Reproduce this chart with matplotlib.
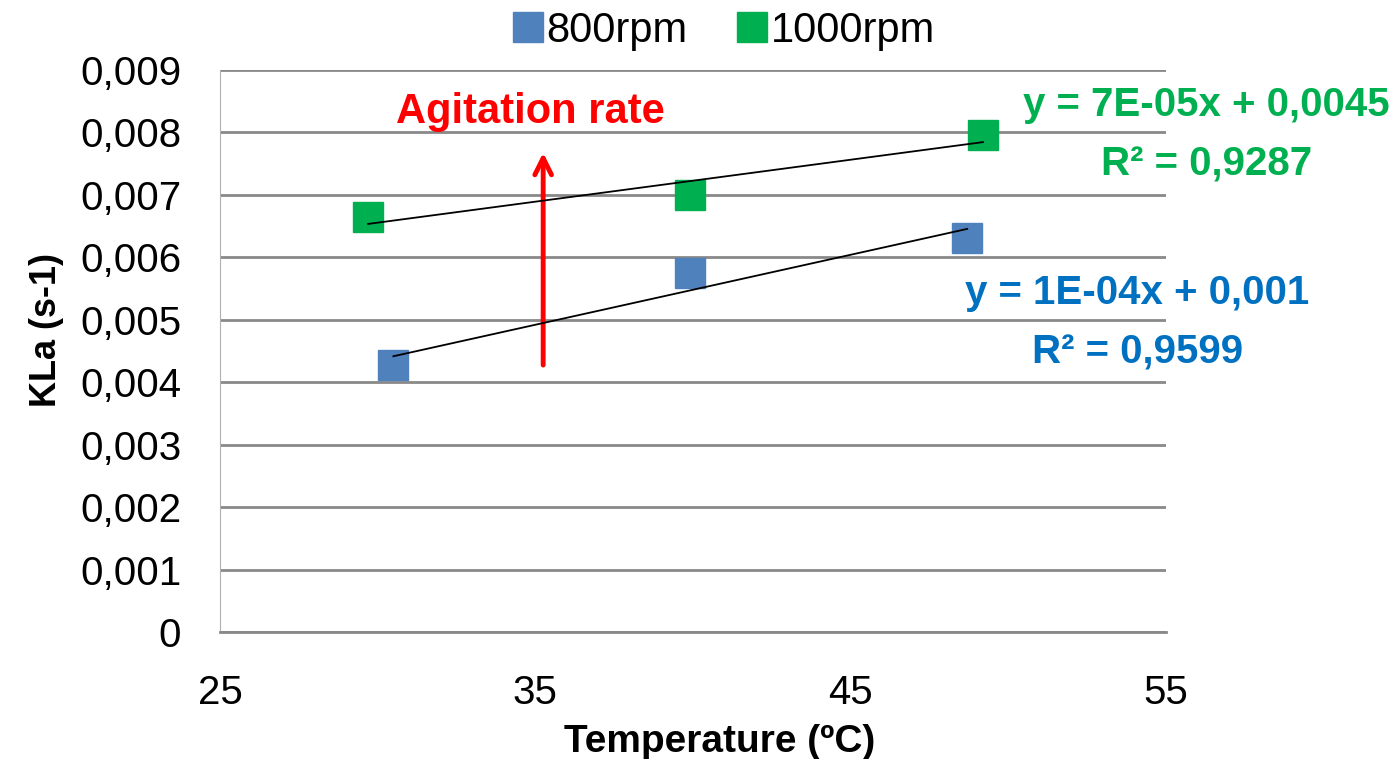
import numpy as np
from matplotlib import pyplot as plt

# values
temp_800 = [30.5, 39.9, 48.7]
kla_800 = [0.00428, 0.00575, 0.00631]
temp_1000 = [29.7, 39.9, 49.2]
kla_1000 = [0.00664, 0.00700, 0.00796]

eq_800 = ['y = 1E-04x + 0,001', 'R² = 0,9599']
eq_1000 = ['y = 7E-05x + 0,0045', 'R² = 0,9287']

x_ticks = [25, 35, 45, 55]
y_ticks = [0, 0.001, 0.002, 0.003, 0.004, 0.005, 0.006, 0.007, 0.008, 0.009]

plt.rcParams['font.family'] = ['Liberation Sans', 'DejaVu Sans']

blue = '#4F81BD'
green = '#00B050'
grid = '#898989'

fig = plt.figure(figsize=(13.97, 7.59), dpi=100)
ax = fig.add_axes([0.1575, 0.1673, 0.677, 0.7405])

ax.plot(temp_800, kla_800, 's', color=blue, ms=22, label='800rpm', zorder=3)
ax.plot(temp_1000, kla_1000, 's', color=green, ms=22, label='1000rpm', zorder=3)

# linear trendlines
for xs, ys in [(temp_800, kla_800), (temp_1000, kla_1000)]:
    m, b = np.polyfit(xs, ys, 1)
    xx = np.array([min(xs), max(xs)])
    ax.plot(xx, m * xx + b, color='black', lw=1.3, zorder=4)

ax.set_xlim(25, 55)
ax.set_ylim(0, 0.009)
ax.set_xticks(x_ticks)
ax.set_yticks(y_ticks)
ax.set_yticklabels(['0'] + ['{:.3f}'.format(v).replace('.', ',') for v in y_ticks[1:]])
ax.tick_params(length=0, labelsize=29, pad=28)
ax.tick_params(axis='x', pad=30)
ax.yaxis.grid(True, color=grid, lw=2)
ax.set_axisbelow(True)
for s in ['top', 'right']:
    ax.spines[s].set_visible(False)
ax.spines['left'].set_color('#b0b0b0')
ax.spines['bottom'].set_color(grid)
ax.spines['bottom'].set_linewidth(2)

ax.set_xlabel('Temperature (ºC)', fontsize=28, fontweight='bold')
ax.set_ylabel('KLa (s-1)', fontsize=26, fontweight='bold')
ax.xaxis.set_label_coords(0.528, -0.163)
ax.yaxis.set_label_coords(-0.165, 0.537)

# agitation arrow
ax.annotate('', xy=(35.25, 0.00772), xytext=(35.25, 0.00423),
            arrowprops=dict(arrowstyle='->', color='red', lw=3.5, mutation_scale=30))
ax.text(34.85, 0.00833, 'Agitation rate', color='red', fontsize=30,
        fontweight='bold', ha='center', va='center')

ax.text(56.3, 0.00844, eq_1000[0], color=green, fontsize=29, fontweight='bold',
        ha='center', va='center', clip_on=False)
ax.text(56.3, 0.00748, eq_1000[1], color=green, fontsize=29, fontweight='bold',
        ha='center', va='center', clip_on=False)
ax.text(54.1, 0.00543, eq_800[0], color='#0070C0', fontsize=29, fontweight='bold',
        ha='center', va='center', clip_on=False)
ax.text(54.1, 0.00448, eq_800[1], color='#0070C0', fontsize=29, fontweight='bold',
        ha='center', va='center', clip_on=False)

fig.legend(loc='upper center', bbox_to_anchor=(0.52, 1.035), ncol=2, frameon=False,
           fontsize=30, handlelength=0.5, handletextpad=0.2, columnspacing=1.3,
           markerscale=1.0)

fig.savefig('out.png', dpi=100)
